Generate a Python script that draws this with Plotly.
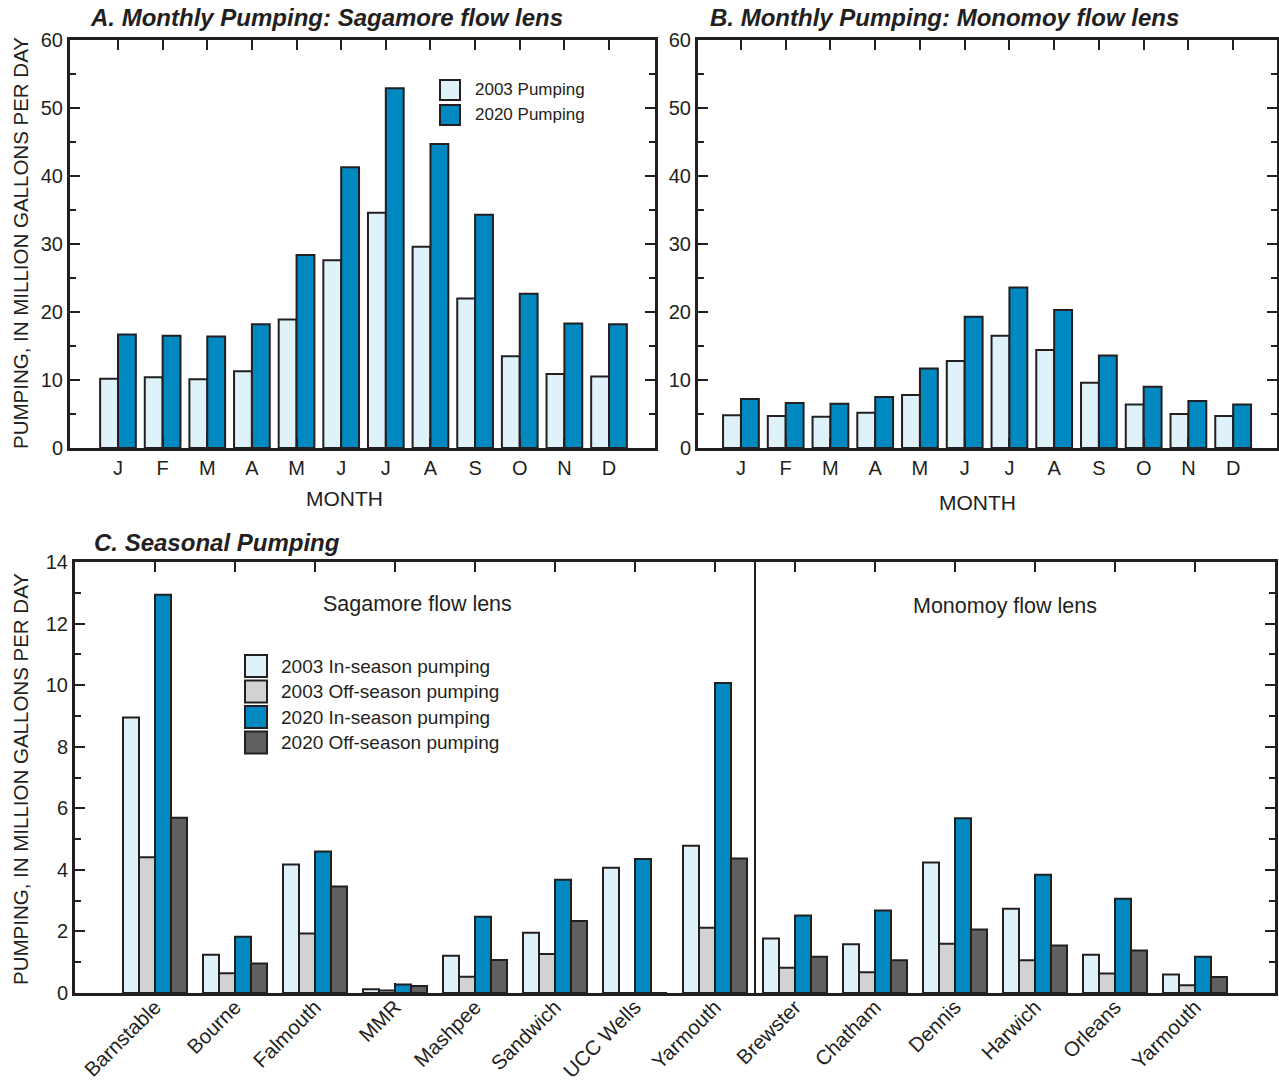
import plotly.graph_objects as go

W, H = 1279, 1084
FONT = "Liberation Sans, Arial, Helvetica, sans-serif"
INK = "#231f20"
C03IN = "#dff2fa"
C20IN = "#0088c0"
C03OFF = "#d1d2d4"
C20OFF = "#606062"

months = ["J", "F", "M", "A", "M", "J", "J", "A", "S", "O", "N", "D"]
sag_2003 = [10.2, 10.4, 10.1, 11.3, 18.9, 27.6, 34.6, 29.6, 22.0, 13.5, 10.9, 10.5]
sag_2020 = [16.7, 16.5, 16.4, 18.2, 28.4, 41.3, 52.9, 44.7, 34.3, 22.7, 18.3, 18.2]
mon_2003 = [4.8, 4.7, 4.6, 5.2, 7.8, 12.8, 16.5, 14.4, 9.6, 6.4, 5.0, 4.7]
mon_2020 = [7.2, 6.6, 6.5, 7.5, 11.7, 19.3, 23.6, 20.3, 13.6, 9.0, 6.9, 6.4]

towns = ["Barnstable", "Bourne", "Falmouth", "MMR", "Mashpee", "Sandwich", "UCC Wells",
         "Yarmouth", "Brewster", "Chatham", "Dennis", "Harwich", "Orleans", "Yarmouth"]
in_2003 = [8.95, 1.24, 4.17, 0.12, 1.21, 1.96, 4.07, 4.78, 1.77, 1.58, 4.24, 2.74, 1.24, 0.60]
off_2003 = [4.41, 0.64, 1.93, 0.08, 0.53, 1.27, 0.0, 2.12, 0.82, 0.67, 1.60, 1.06, 0.63, 0.25]
in_2020 = [12.94, 1.83, 4.60, 0.28, 2.48, 3.68, 4.35, 10.07, 2.52, 2.68, 5.68, 3.84, 3.06, 1.18]
off_2020 = [5.69, 0.96, 3.46, 0.23, 1.07, 2.34, 0.0, 4.37, 1.18, 1.06, 2.06, 1.54, 1.38, 0.52]

mx = list(range(len(months)))
tx = list(range(len(towns)))

fig = go.Figure()
line = dict(color=INK, width=2)

def bar(x, y, color, xa, ya, name):
    fig.add_trace(go.Bar(x=x, y=y, marker=dict(color=color, line=line), xaxis=xa, yaxis=ya,
                         name=name, showlegend=False, offsetgroup=name, hoverinfo="skip"))

bar(mx, sag_2003, C03IN, "x", "y", "a03")
bar(mx, sag_2020, C20IN, "x", "y", "a20")
bar(mx, mon_2003, C03IN, "x2", "y2", "b03")
bar(mx, mon_2020, C20IN, "x2", "y2", "b20")
bar(tx, in_2003, C03IN, "x3", "y3", "c1")
bar(tx, off_2003, C03OFF, "x3", "y3", "c2")
bar(tx, in_2020, C20IN, "x3", "y3", "c3")
bar(tx, off_2020, C20OFF, "x3", "y3", "c4")

def px(v):
    return v / W

def py(v):
    return 1 - v / H

axcommon = dict(showline=True, linewidth=3, linecolor=INK, mirror="ticks", ticks="inside",
                ticklen=10, tickwidth=2, tickcolor=INK, showgrid=False, zeroline=False,
                automargin=False, tickfont=dict(family=FONT, size=20, color=INK))
minor_t = dict(ticks="inside", ticklen=6, tickwidth=2, tickcolor=INK)

fig.update_layout(
    width=W, height=H, margin=dict(l=0, r=0, t=0, b=0, autoexpand=False),
    paper_bgcolor="white", plot_bgcolor="white",
    barmode="group", bargap=0.2, bargroupgap=0,
    font=dict(family=FONT, color=INK),
    xaxis=dict(domain=[px(70), px(655)], range=[-1.075, 12.03], tickvals=mx, ticktext=months,
               anchor="y", **axcommon),
    yaxis=dict(domain=[py(448), py(40)], range=[0, 60], dtick=10, anchor="x",
               minor=dict(dtick=5, **minor_t), **axcommon),
    xaxis2=dict(domain=[px(698), px(1277)], range=[-0.96, 11.98], tickvals=mx, ticktext=months,
                anchor="y2", **axcommon),
    yaxis2=dict(domain=[py(448), py(40)], range=[0, 60], dtick=10, anchor="x2",
                minor=dict(dtick=5, **minor_t), **axcommon),
    xaxis3=dict(domain=[px(75), px(1275)], range=[-1, 14], tickvals=tx, ticktext=towns,
                tickangle=-45, anchor="y3", ticklabelstandoff=-9,
                **{**axcommon, "tickfont": dict(family=FONT, size=20.5, color=INK)}),
    yaxis3=dict(domain=[py(993), py(562)], range=[0, 14], dtick=2, anchor="x3",
                minor=dict(dtick=1, **minor_t), **axcommon),
)

# divider between flow lenses
fig.add_shape(type="line", xref="x3", yref="y3", x0=7.5, x1=7.5, y0=0, y1=14,
              line=dict(color=INK, width=2))

ann = []
def text(x, y, s, size, xanchor="left", bold_italic=False, angle=0):
    if bold_italic:
        s = "<b><i>" + s + "</i></b>"
    ann.append(dict(x=px(x), y=py(y), xref="paper", yref="paper", text=s, showarrow=False,
                    xanchor=xanchor, yanchor="middle", textangle=angle,
                    font=dict(family=FONT, size=size, color=INK)))

text(88, 18, "A. Monthly Pumping: Sagamore flow lens", 24, bold_italic=True)
text(708, 18, "B. Monthly Pumping: Monomoy flow lens", 24, bold_italic=True)
text(92, 542, "C. Seasonal Pumping", 24, bold_italic=True)
text(20, 243, "PUMPING, IN MILLION GALLONS PER DAY", 20.5, xanchor="center", angle=-90)
text(20, 779, "PUMPING, IN MILLION GALLONS PER DAY", 20.5, xanchor="center", angle=-90)
text(345, 498, "MONTH", 21, xanchor="center")
text(977, 502, "MONTH", 21, xanchor="center")
text(417, 604, "Sagamore flow lens", 21.5, xanchor="center")
text(1005, 606, "Monomoy flow lens", 21.5, xanchor="center")

# legend A
legA = [("2003 Pumping", C03IN), ("2020 Pumping", C20IN)]
for i, (lab, col) in enumerate(legA):
    yc = 90 + 25 * i
    fig.add_shape(type="rect", xref="paper", yref="paper", x0=px(440), x1=px(460),
                  y0=py(yc + 10), y1=py(yc - 10), fillcolor=col, line=dict(color=INK, width=2))
    text(473, yc, lab, 17)

# legend C
legC = [("2003 In-season pumping", C03IN), ("2003 Off-season pumping", C03OFF),
        ("2020 In-season pumping", C20IN), ("2020 Off-season pumping", C20OFF)]
for i, (lab, col) in enumerate(legC):
    yc = 666 + 25.5 * i
    fig.add_shape(type="rect", xref="paper", yref="paper", x0=px(245), x1=px(267),
                  y0=py(yc + 11), y1=py(yc - 11), fillcolor=col, line=dict(color=INK, width=2))
    text(279, yc, lab, 19)

fig.update_layout(annotations=ann)
fig.write_html(
    "out.html",
    config={"displayModeBar": False},
    post_script=(
        "document.body.style.margin='0';document.body.style.overflow='hidden';"
        "var d=document.getElementById('{plot_id}');d.style.position='fixed';"
        "d.style.top='0px';d.style.left='0px';"
    ),
)
